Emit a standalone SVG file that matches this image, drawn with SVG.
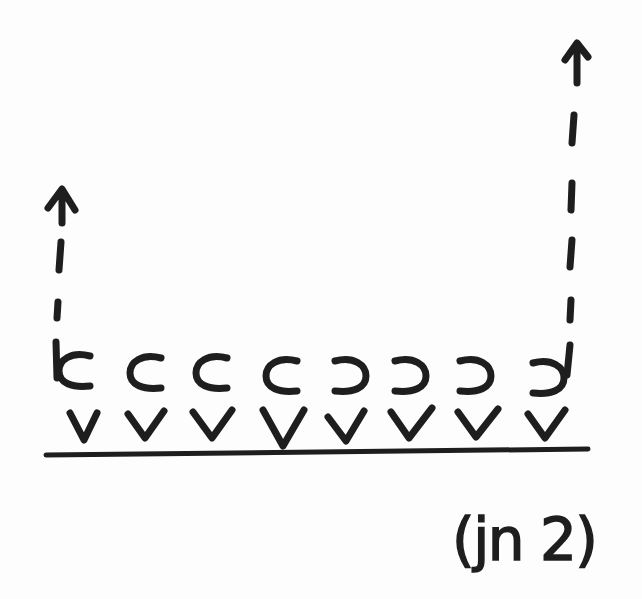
<svg xmlns="http://www.w3.org/2000/svg" width="642" height="599" viewBox="0 0 642 599">
<style>
.ink{fill:none;stroke:#1e1e1e;stroke-width:7;stroke-linecap:round;stroke-linejoin:round}
.thin{fill:none;stroke:#1e1e1e;stroke-width:5;stroke-linecap:round;stroke-linejoin:round}
.lbl{font-family:"DejaVu Sans","Liberation Sans",sans-serif;font-size:58px;fill:#1e1e1e;stroke:#1e1e1e;stroke-width:1.5}
</style>
<defs>
<path id="cl" d="M33 3 C14 -2 2 7 2 18 C2 30 15 35 33 33"/>
</defs>
<rect width="642" height="599" fill="#fdfdfd"/>
<g id="baseline"><path class="thin" d="M46 455 L588 449"/></g>
<g id="connectors">
<path class="ink" d="M61 242 L59 270 M58 302 L57 318"/>
<path class="ink" d="M62 190 L62 223 M48 208 L62 189 L75 210"/>
<path class="ink" d="M574 115 L572 143 M572 183 L571 210 M572 240 L570 267 M571 300 L570 320"/>
<path class="ink" d="M577 44 L577 83 M565 60 L577 43 L588 57"/>
</g>
<g id="c1" class="ink"><use href="#cl" transform="translate(57,353)"/><path d="M56 342 L57 378"/></g>
<g id="c2" class="ink"><use href="#cl" transform="translate(128,355)"/></g>
<g id="c3" class="ink"><use href="#cl" transform="translate(194,355)"/></g>
<g id="c4" class="ink"><use href="#cl" transform="translate(264,358)"/></g>
<g id="c5" class="ink"><use href="#cl" transform="translate(368,358) scale(-1,1)"/></g>
<g id="c6" class="ink"><use href="#cl" transform="translate(428,358) scale(-1,1)"/></g>
<g id="c7" class="ink"><use href="#cl" transform="translate(493,358) scale(-1,1)"/></g>
<g id="c8" class="ink"><use href="#cl" transform="translate(566,360) scale(-1,1)"/><path d="M570 345 L567 375"/></g>
<g id="v1"><path class="ink" d="M70 413 L84 440 L97 413"/></g>
<g id="v2"><path class="ink" d="M128 414 L145 438 L164 411"/></g>
<g id="v3"><path class="ink" d="M193 412 L212 438 L232 410"/></g>
<g id="v4"><path class="ink" d="M263 410 L283 446 L304 410"/></g>
<g id="v5"><path class="ink" d="M328 417 L346 441 L364 411"/></g>
<g id="v6"><path class="ink" d="M391 412 L409 438 L432 408"/></g>
<g id="v7"><path class="ink" d="M458 412 L476 437 L498 409"/></g>
<g id="v8"><path class="ink" d="M528 414 L545 438 L565 410"/></g>
<g id="label"><text class="lbl" x="452" y="560" textLength="146" lengthAdjust="spacing">(jn 2)</text></g>
</svg>
